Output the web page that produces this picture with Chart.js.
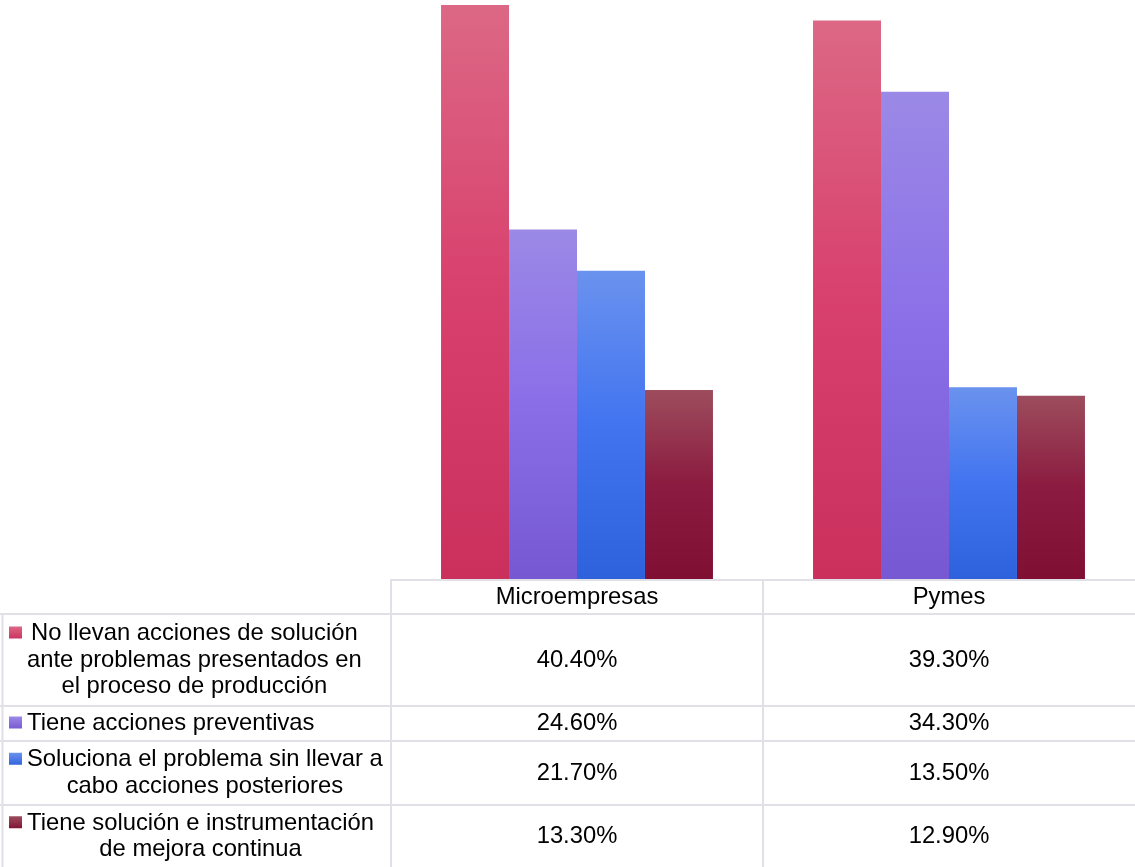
<!DOCTYPE html>
<html>
<head>
<meta charset="utf-8">
<script src="https://cdn.jsdelivr.net/npm/chart.js@4"></script>
<style>
  body { margin: 0; background: #fff; }
</style>
</head>
<body>
<canvas id="grafica" width="1135" height="867"></canvas>
<script>
const categories = ["Microempresas", "Pymes"];
const seriesLabels = [
  ["No llevan acciones de solución", "ante problemas presentados en", "el proceso de producción"],
  ["Tiene acciones preventivas"],
  ["Soluciona el problema sin llevar a", "cabo acciones posteriores"],
  ["Tiene solución e instrumentación", "de mejora continua"],
];
const noLlevan = [40.4, 39.3];
const preventivas = [24.6, 34.3];
const soluciona = [21.7, 13.5];
const mejora = [13.3, 12.9];

// top / middle / bottom colours of each bar gradient
const rosa = ["#dc6885", "#d8406d", "#cb305d"];
const morado = ["#9b89e6", "#8a6ee8", "#7558d2"];
const azul = ["#6a92ee", "#4274f0", "#2e61dc"];
const vino = ["#9d4d5d", "#8b1b40", "#7f0f33"];
const paletas = [rosa, morado, azul, vino];

const fuente = '23.8px "Liberation Sans", Arial, sans-serif';

function relleno(stops) {
  return (c) => {
    const chart = c.chart;
    if (!chart.chartArea || c.raw == null) return stops[1];
    const y = chart.scales.y;
    const top = y.getPixelForValue(c.raw);
    const base = y.getPixelForValue(0);
    const g = chart.ctx.createLinearGradient(0, top, 0, base);
    g.addColorStop(0, stops[0]);
    g.addColorStop(0.5, stops[1]);
    g.addColorStop(1, stops[2]);
    return g;
  };
}

// data table drawn under the plot, Excel style
const tablaDatos = {
  id: "tablaDatos",
  afterDraw(chart) {
    const { ctx, chartArea: area, scales: { x } } = chart;
    const alturas = [34, 92, 35, 64, 63];
    const bordes = [area.bottom];
    alturas.forEach((h) => bordes.push(bordes[bordes.length - 1] + h));
    const medio = (x.getPixelForTick(0) + x.getPixelForTick(1)) / 2;

    ctx.save();
    ctx.strokeStyle = "#e0e0e6";
    ctx.lineWidth = 2;
    ctx.beginPath();
    ctx.moveTo(area.left, bordes[0] + 1);
    ctx.lineTo(area.right, bordes[0] + 1);
    for (let i = 1; i < bordes.length - 1; i++) {
      ctx.moveTo(0, bordes[i] + 1);
      ctx.lineTo(area.right, bordes[i] + 1);
    }
    ctx.moveTo(2.5, bordes[1]);
    ctx.lineTo(2.5, bordes[bordes.length - 1]);
    ctx.moveTo(area.left, bordes[0]);
    ctx.lineTo(area.left, bordes[bordes.length - 1]);
    ctx.moveTo(medio, bordes[0]);
    ctx.lineTo(medio, bordes[bordes.length - 1]);
    ctx.stroke();

    ctx.font = fuente;
    ctx.fillStyle = "#000";
    ctx.textBaseline = "middle";
    ctx.textAlign = "center";
    const filaY = (i) => (bordes[i] + bordes[i + 1]) / 2 + 1;

    categories.forEach((cat, j) => {
      ctx.fillText(cat, x.getPixelForTick(j), filaY(0));
    });

    chart.data.datasets.forEach((ds, i) => {
      const yc = filaY(i + 1);
      ds.data.forEach((v, j) => {
        ctx.fillText(v.toFixed(2) + "%", x.getPixelForTick(j), yc);
      });

      const lineas = seriesLabels[i];
      const salto = 26.5;
      const y0 = yc - (salto * (lineas.length - 1)) / 2;
      const ancho = Math.max(...lineas.map((l) => ctx.measureText(l).width));
      const izq = 27;
      lineas.forEach((l, k) => {
        ctx.fillText(l, izq + ancho / 2, y0 + k * salto);
      });

      // legend key
      const p = paletas[i];
      const g = ctx.createLinearGradient(0, y0 - 7, 0, y0 + 6);
      g.addColorStop(0, p[0]);
      g.addColorStop(1, p[2]);
      ctx.fillStyle = g;
      ctx.fillRect(9, y0 - 7, 13, 12);
      ctx.fillStyle = "#000";
    });
    ctx.restore();
  },
};

const series = [noLlevan, preventivas, soluciona, mejora];

new Chart(document.getElementById("grafica"), {
  type: "bar",
  data: {
    labels: categories,
    datasets: series.map((data, i) => ({
      label: seriesLabels[i].join(" "),
      data: data,
      backgroundColor: relleno(paletas[i]),
      borderWidth: 0,
      categoryPercentage: 0.731,
      barPercentage: 1,
    })),
  },
  options: {
    responsive: false,
    animation: false,
    layout: { padding: { left: 391, right: 0, top: 0, bottom: 288 } },
    plugins: {
      legend: { display: false },
      tooltip: { enabled: false },
    },
    scales: {
      x: { display: false },
      y: { display: false, min: 0, max: 40.75 },
    },
  },
  plugins: [tablaDatos],
});
</script>
</body>
</html>
